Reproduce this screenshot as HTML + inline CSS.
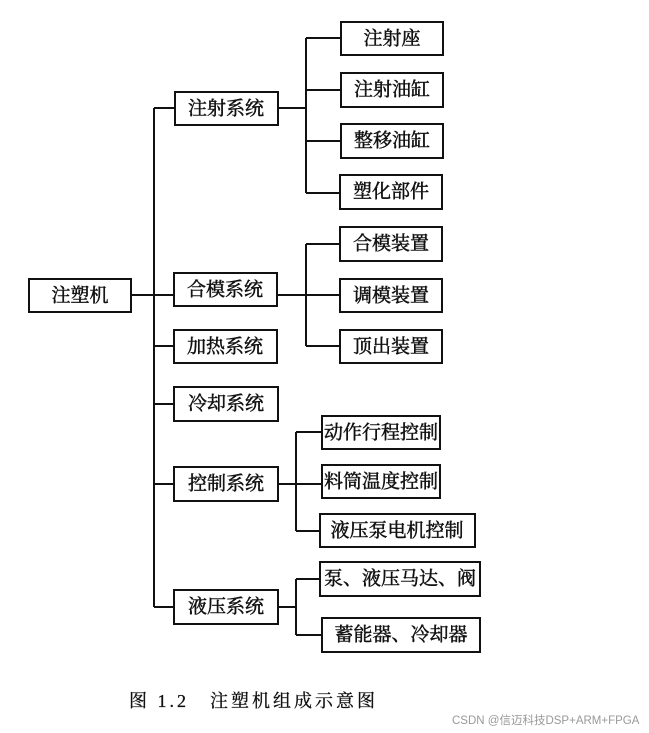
<!DOCTYPE html>
<html><head><meta charset="utf-8"><style>
html,body{margin:0;padding:0;background:#fff;}
svg{display:block}
text{font-family:"Liberation Serif","Noto Serif CJK SC","Noto Sans CJK SC",serif;font-size:19px;fill:#111;stroke:#111;stroke-width:0.5;text-anchor:middle;dominant-baseline:central;}
</style></head><body>
<svg width="649" height="733" viewBox="0 0 649 733" xmlns="http://www.w3.org/2000/svg">
<g fill="none" stroke="#111" stroke-width="2">
<rect x="29" y="279" width="102" height="33"/>
<line x1="131" y1="295" x2="174" y2="295"/>
<line x1="154" y1="108" x2="154" y2="607"/>
<line x1="154" y1="108" x2="175" y2="108"/>
<line x1="154" y1="346" x2="174" y2="346"/>
<line x1="154" y1="404" x2="174" y2="404"/>
<line x1="154" y1="484" x2="174" y2="484"/>
<line x1="154" y1="607" x2="174" y2="607"/>
<rect x="175" y="92" width="103" height="33"/>
<rect x="174" y="273" width="103" height="33"/>
<rect x="174" y="330" width="103" height="33"/>
<rect x="174" y="387" width="104" height="34"/>
<rect x="174" y="467" width="104" height="34"/>
<rect x="174" y="590" width="104" height="34"/>
<line x1="278" y1="108" x2="306" y2="108"/>
<line x1="306" y1="38" x2="306" y2="193"/>
<line x1="306" y1="38" x2="341" y2="38"/>
<line x1="306" y1="90" x2="341" y2="90"/>
<line x1="306" y1="141" x2="341" y2="141"/>
<line x1="306" y1="193" x2="340" y2="193"/>
<rect x="341" y="22" width="102" height="33"/>
<rect x="341" y="73" width="102" height="34"/>
<rect x="341" y="124" width="102" height="34"/>
<rect x="340" y="175" width="102" height="34"/>
<line x1="277" y1="295" x2="340" y2="295"/>
<line x1="306" y1="244" x2="306" y2="346"/>
<line x1="306" y1="244" x2="340" y2="244"/>
<line x1="306" y1="346" x2="340" y2="346"/>
<rect x="340" y="227" width="102" height="34"/>
<rect x="340" y="279" width="102" height="33"/>
<rect x="340" y="330" width="102" height="33"/>
<line x1="278" y1="484" x2="322" y2="484"/>
<line x1="296" y1="432" x2="296" y2="531"/>
<line x1="296" y1="432" x2="322" y2="432"/>
<line x1="296" y1="531" x2="320" y2="531"/>
<rect x="322" y="416" width="118" height="33"/>
<rect x="322" y="465" width="118" height="33"/>
<rect x="320" y="514" width="155" height="33"/>
<line x1="278" y1="607" x2="296" y2="607"/>
<line x1="296" y1="579" x2="296" y2="635"/>
<line x1="296" y1="579" x2="320" y2="579"/>
<line x1="296" y1="635" x2="322" y2="635"/>
<rect x="320" y="562" width="160" height="34"/>
<rect x="322" y="618" width="158" height="34"/>
</g>
<text x="80" y="296">注塑机</text>
<text x="226" y="109">注射系统</text>
<text x="225" y="290">合模系统</text>
<text x="225" y="347">加热系统</text>
<text x="226" y="404">冷却系统</text>
<text x="226" y="484">控制系统</text>
<text x="226" y="607">液压系统</text>
<text x="392" y="39">注射座</text>
<text x="392" y="90">注射油缸</text>
<text x="392" y="141">整移油缸</text>
<text x="391" y="192">塑化部件</text>
<text x="391" y="244">合模装置</text>
<text x="391" y="296">调模装置</text>
<text x="391" y="347">顶出装置</text>
<text x="381" y="433">动作行程控制</text>
<text x="381" y="482">料筒温度控制</text>
<text x="397" y="531">液压泵电机控制</text>
<text x="400" y="579">泵、液压马达、阀</text>
<text x="401" y="635">蓄能器、冷却器</text>
<text x="129" y="707" style="text-anchor:start;dominant-baseline:alphabetic;font-size:18px;letter-spacing:3px;stroke-width:0.3">图 1.2　注塑机组成示意图</text>
<text x="452" y="724" style="text-anchor:start;dominant-baseline:alphabetic;font-family:'Liberation Sans','Noto Sans CJK SC',sans-serif;font-size:11.5px;fill:#999;stroke:none">CSDN @信迈科技DSP+ARM+FPGA</text>
</svg>
</body></html>
